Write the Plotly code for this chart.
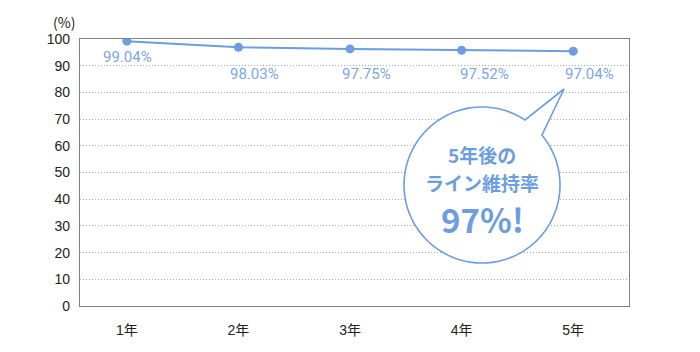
import numpy as np
import plotly.graph_objects as go

years = ["1年", "2年", "3年", "4年", "5年"]
retention = [99.2, 96.9, 96.3, 95.8, 95.4]
labels = ["99.04%", "98.03%", "97.75%", "97.52%", "97.04%"]
y_ticks = list(range(0, 101, 10))
callout_lines = ["5年後の", "ライン維持率", "97%!"]

# layout geometry (pixels)
W, H = 700, 352
L, R, T, B = 80, 71, 39, 46
PW, PH = W - L - R, H - T - B

def px2paper(px, py):
    return (px - L) / PW, (H - B - py) / PH

LINE = "#6b9de3"
LABEL = "#7ba6e6"

fig = go.Figure()
fig.add_trace(go.Scatter(
    x=years, y=retention, mode="lines+markers",
    line=dict(color=LINE, width=2),
    marker=dict(color=LINE, size=9),
    hoverinfo="skip", showlegend=False,
))

# data labels with offsets
xshift = [1, 16, 16, 23, 16]
yshift = [-16, -27, -25, -24, -23]
for i, (yr, v, t) in enumerate(zip(years, retention, labels)):
    fig.add_annotation(x=yr, y=v, text=t, showarrow=False,
                       xshift=xshift[i], yshift=yshift[i],
                       font=dict(family="Roboto", size=15, color=LABEL, weight=400))

# speech bubble
cx, cy, r = 482, 185, 78
a_start = np.arctan2(135 - cy, 542 - cx)
a_end = np.arctan2(120 - cy, 525 - cx)
a_e = a_end
while a_e < a_start:
    a_e += 2 * np.pi
angles = np.linspace(a_start, a_e, 120)
pts = [(cx + r * np.cos(a), cy + r * np.sin(a)) for a in angles]
pts.append((564, 89))
path = ""
for k, (px, py) in enumerate(pts):
    xp, yp = px2paper(px, py)
    path += ("M" if k == 0 else "L") + f"{xp:.5f},{yp:.5f} "
path += "Z"
fig.add_shape(type="path", path=path, xref="paper", yref="paper",
              fillcolor="white", line=dict(color=LINE, width=1.6), layer="above")

BUB = "#6c9de0"
for txt, py, size in zip(callout_lines, [154, 182, 219], [19, 19, 33]):
    xp, yp = px2paper(482, py)
    fig.add_annotation(x=xp, y=yp, xref="paper", yref="paper", text=txt,
                       showarrow=False, xanchor="center", yanchor="middle",
                       font=dict(family="Noto Sans CJK JP", size=size, color=BUB, weight="bold"))

xp, yp = px2paper(64, 22)
fig.add_annotation(x=xp, y=yp, xref="paper", yref="paper", text="(%)", showarrow=False,
                   xanchor="center", yanchor="middle",
                   font=dict(family="Noto Sans CJK JP", size=14, color="#222"))

fig.update_layout(
    width=W, height=H, margin=dict(l=L, r=R, t=T, b=B),
    paper_bgcolor="white", plot_bgcolor="white",
    font=dict(family="Liberation Sans, Noto Sans CJK JP", size=14, color="#222"),
    xaxis=dict(type="category", categoryorder="array", categoryarray=years,
               range=[-0.42, 4.5], showgrid=False, showline=True, mirror=True,
               linecolor="#808080", linewidth=1.2, zeroline=False,
               ticks="", ticklabelstandoff=11,
               tickfont=dict(family="Liberation Sans, Noto Sans CJK JP", size=14, color="#222")),
    yaxis=dict(range=[0, 100], tickvals=y_ticks, showgrid=True, gridcolor="#a8a8a8",
               griddash="1px,2px", gridwidth=1, showline=True, mirror=True,
               linecolor="#808080", linewidth=1.2, zeroline=False,
               ticks="", ticklabelstandoff=6,
               tickfont=dict(family="Liberation Sans", size=14, color="#222")),
)

fig.write_html("out.html")
